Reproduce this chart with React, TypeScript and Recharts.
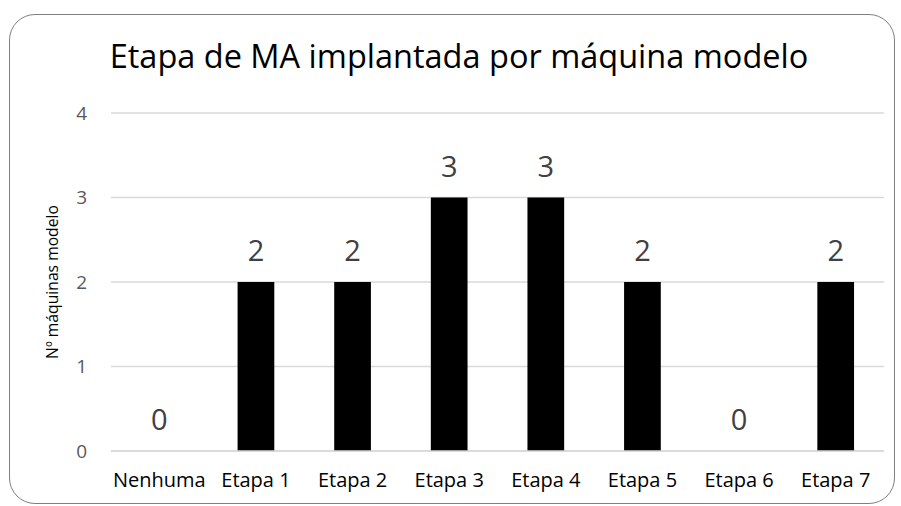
import React from 'react';
import { ComposedChart, Bar, Line, XAxis, YAxis, CartesianGrid, LabelList } from 'recharts';

const etapas = ['Nenhuma', 'Etapa 1', 'Etapa 2', 'Etapa 3', 'Etapa 4', 'Etapa 5', 'Etapa 6', 'Etapa 7'];
const maquinas = [0, 2, 2, 3, 3, 2, 0, 2];
const yTicks = [0, 1, 2, 3, 4];

const chartData = etapas.map((name, i) => ({ name, value: maquinas[i] }));

const FONT = '"Open Sans", sans-serif';

const App: React.FC = () => {
    return (
        <div style={{ position: 'absolute', left: 0, top: 0, width: 901, height: 506, fontFamily: FONT }}>
            <div
                style={{
                    position: 'absolute',
                    left: 9,
                    top: 14,
                    width: 886,
                    height: 490,
                    border: '1.5px solid #7f7f7f',
                    borderRadius: 26,
                    boxSizing: 'border-box',
                }}
            />
            <div
                style={{
                    position: 'absolute',
                    left: 0,
                    width: 901,
                    top: 33,
                    textAlign: 'center',
                    fontSize: 32.5,
                    color: '#000',
                    paddingLeft: 17,
                    boxSizing: 'border-box',
                }}
            >
                Etapa de MA implantada por máquina modelo
            </div>
            <div style={{ position: 'absolute', left: 0, top: 0 }}>
                <ComposedChart
                    width={901}
                    height={506}
                    data={chartData}
                    margin={{ top: 113, right: 17, bottom: 25, left: 41 }}
                    barCategoryGap="69%"
                >
                    <CartesianGrid vertical={false} stroke="#d9d9d9" strokeWidth={1.5} />
                    <XAxis
                        dataKey="name"
                        axisLine={{ stroke: '#d9d9d9', strokeWidth: 1.5 }}
                        tickLine={false}
                        tickSize={0}
                        height={30}
                        tick={{ fill: '#000', fontSize: 20, fontFamily: FONT }}
                        tickMargin={22}
                        interval={0}
                    />
                    <YAxis
                        domain={[0, 4]}
                        ticks={yTicks}
                        axisLine={false}
                        tickLine={false}
                        tickSize={0}
                        width={70}
                        tick={{ fill: '#595959', fontSize: 19, fontFamily: FONT }}
                        tickMargin={24}
                        label={{
                            value: 'Nº máquinas modelo',
                            angle: -90,
                            position: 'insideLeft',
                            offset: 11,
                            style: { textAnchor: 'middle', fill: '#000', fontSize: 15.7, fontFamily: FONT },
                        }}
                    />
                    <Bar dataKey="value" fill="#000" isAnimationActive={false} />
                    {/* invisible line just to carry the value labels, so the zeros show too */}
                    <Line
                        dataKey="value"
                        stroke="none"
                        dot={false}
                        activeDot={false}
                        legendType="none"
                        isAnimationActive={false}
                    >
                        <LabelList
                            dataKey="value"
                            position="top"
                            offset={21}
                            style={{ fill: '#404040', fontSize: 29, fontFamily: FONT }}
                        />
                    </Line>
                </ComposedChart>
            </div>
        </div>
    );
};

export default App;
